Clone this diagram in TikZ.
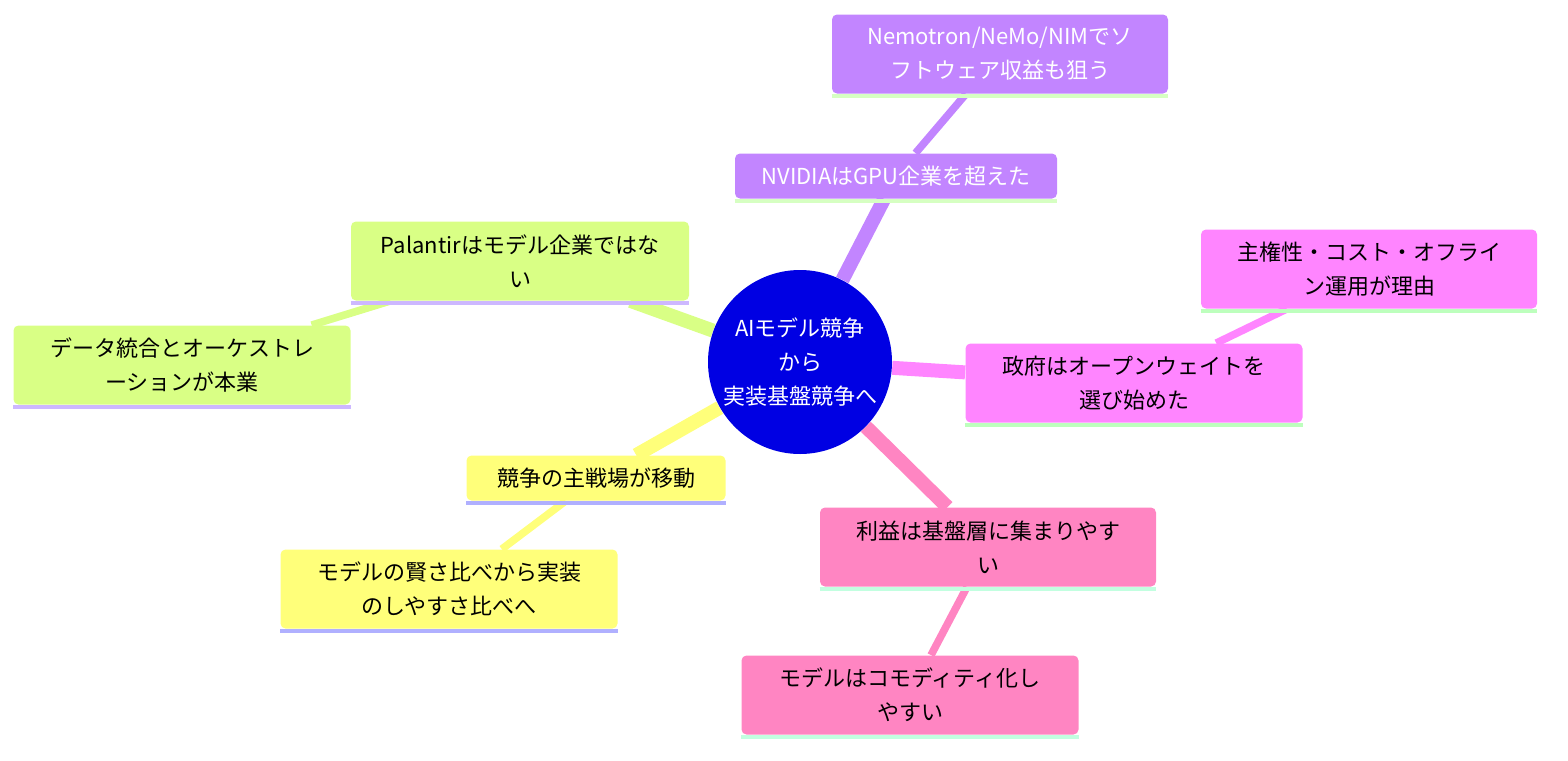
\documentclass[tikz,border=0pt]{standalone}
\usepackage{fontspec}
\setmainfont{Noto Sans CJK JP}
\usetikzlibrary{backgrounds}
\definecolor{rootblue}{HTML}{0000E3}
\definecolor{nvpurple}{HTML}{C285FF}
\definecolor{nvbar}{HTML}{D6FFC2}
\definecolor{pllime}{HTML}{D9FF85}
\definecolor{plbar}{HTML}{CDB8FF}
\definecolor{cpyellow}{HTML}{FFFF7A}
\definecolor{cpbar}{HTML}{B0B0FF}
\definecolor{gvmagenta}{HTML}{FF85FF}
\definecolor{gvbar}{HTML}{BDFFBD}
\definecolor{prpink}{HTML}{FF85C2}
\definecolor{prbar}{HTML}{C2FFE0}
\begin{document}
\begin{tikzpicture}[x=0.5pt,y=-0.5pt]
        \tikzset{topic/.style = {shape=circle,fill=rootblue,text=white,minimum size=92pt,inner sep=0pt,align=center,font=\fontsize{11}{17}\selectfont}}
        \tikzset{idea/.style = {shape=rectangle,rounded corners=2.5pt,fill=#1,align=center,inner sep=0pt,minimum width=168.5pt,minimum height=39.5pt,font=\fontsize{11}{17}\selectfont}}
        \tikzset{bar/.style = {append after command={([yshift=-0.9pt]\tikzlastnode.south west) edge[draw=#1,line width=1.8pt] ([yshift=-0.9pt]\tikzlastnode.south east)}}}
        \tikzset{edge/.style = {line width=7pt}}
        \tikzset{twig/.style = {line width=3.8pt}}
        \useasboundingbox (0,0) rectangle (1568,760);
        % centre
        \node[topic] (root) at (800,362) {AIモデル競争\\から\\実装基盤競争へ};
        % NVIDIA branch
        \node[idea=nvpurple,text=white,minimum width=161pt,minimum height=22.5pt,bar=nvbar] (nvidia) at (896,176) {NVIDIAはGPU企業を超えた};
        \node[idea=nvpurple,text=white,minimum width=168pt,bar=nvbar] (nemo) at (1000,54) {Nemotron/NeMo/NIMでソ\\フトウェア収益も狙う};
        % Palantir branch
        \node[idea=pllime,minimum width=169pt,bar=plbar] (palantir) at (520,261) {Palantirはモデル企業ではな\\い};
        \node[idea=pllime,bar=plbar] (data) at (182,365) {データ統合とオーケストレ\\ーションが本業};
        % battlefield branch
        \node[idea=cpyellow,minimum width=129.5pt,minimum height=22.5pt,bar=cpbar] (shift) at (596,478) {競争の主戦場が移動};
        \node[idea=cpyellow,bar=cpbar] (smart) at (449,589) {モデルの賢さ比べから実装\\のしやすさ比べへ};
        % government branch
        \node[idea=gvmagenta,bar=gvbar] (gov) at (1134,383) {政府はオープンウェイトを\\選び始めた};
        \node[idea=gvmagenta,minimum width=168pt,bar=gvbar] (reason) at (1369,269) {主権性・コスト・オフライ\\ン運用が理由};
        % profit branch
        \node[idea=prpink,minimum width=168pt,bar=prbar] (profit) at (988,547) {利益は基盤層に集まりやす\\い};
        \node[idea=prpink,bar=prbar] (commod) at (910,695) {モデルはコモディティ化し\\やすい};
        % branches behind the boxes
        \begin{scope}[on background layer]
        \draw[edge,nvpurple] (root) -- (nvidia);
        \draw[twig,nvpurple] (nvidia) -- (nemo);
        \draw[edge,pllime] (root) -- (palantir);
        \draw[twig,pllime] (palantir) -- (data);
        \draw[edge,cpyellow] (root) -- (shift);
        \draw[twig,cpyellow] (shift) -- (smart);
        \draw[edge,gvmagenta] (root) -- (gov);
        \draw[twig,gvmagenta] (gov) -- (reason);
        \draw[edge,prpink] (root) -- (profit);
        \draw[twig,prpink] (profit) -- (commod);
        \end{scope}
\end{tikzpicture}
\end{document}
